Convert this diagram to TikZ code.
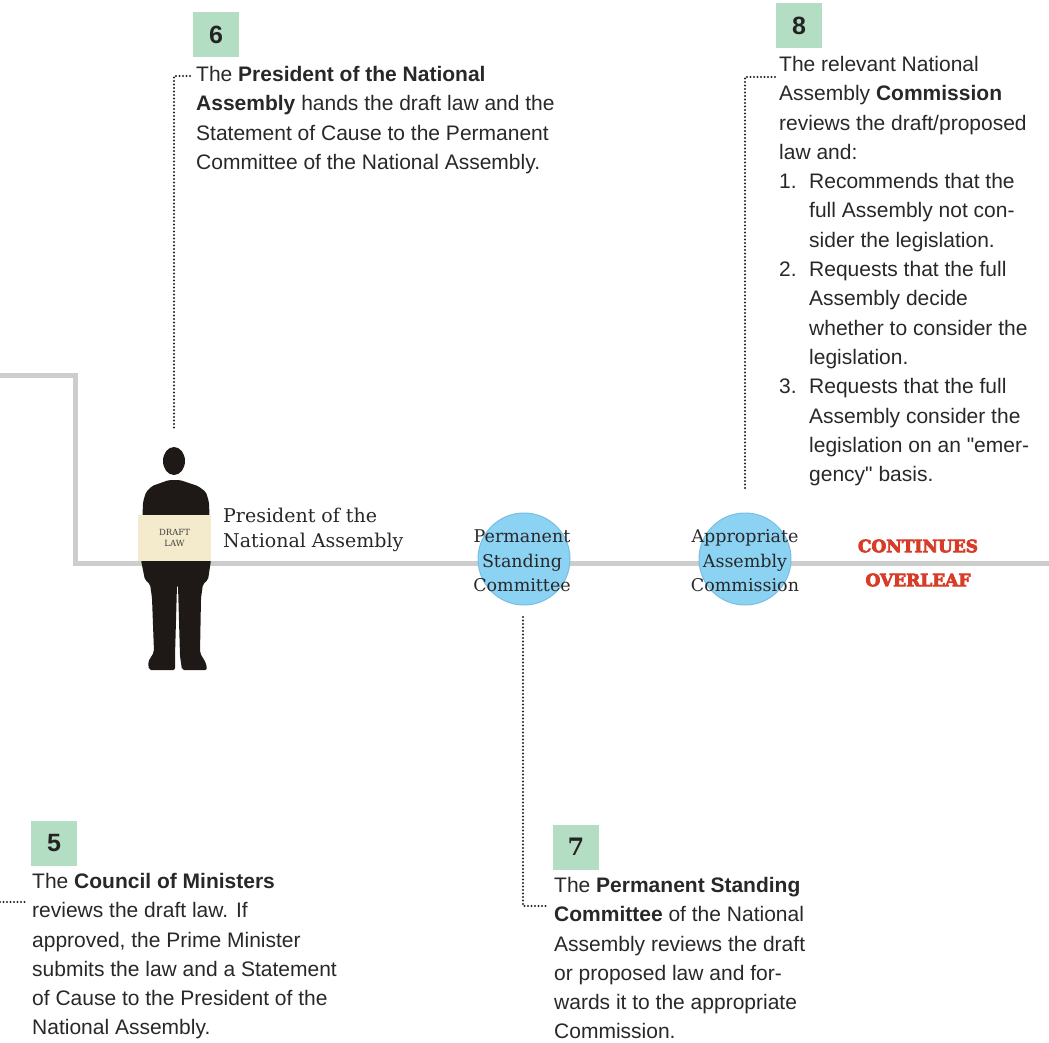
\documentclass[tikz,border=0pt]{standalone}
\usepackage{fontspec}
\setmainfont{Liberation Sans}[Ligatures=TeXOff]
\newfontfamily\slab{DejaVu Serif}
\newfontfamily\slabheavy{DejaVu Serif}[FakeBold=4.5]
\definecolor{linegray}{RGB}{205,205,205}
\definecolor{badgegreen}{RGB}{180,222,196}
\definecolor{numcol}{RGB}{35,35,35}
\definecolor{txtcol}{RGB}{40,40,40}
\definecolor{dotcol}{RGB}{35,35,35}
\definecolor{circblue}{RGB}{140,210,243}
\definecolor{circedge}{RGB}{120,190,228}
\definecolor{figcol}{RGB}{30,25,22}
\definecolor{boardcol}{RGB}{243,235,204}
\definecolor{redcol}{RGB}{215,60,40}
\begin{document}
\begin{tikzpicture}[x=1pt,y=-1pt,
  body/.style={font=\fontsize{21}{29.3}\selectfont, align=left, inner sep=0pt, anchor=north west, text=txtcol},
  badge/.style={fill=badgegreen, minimum width=46pt, minimum height=45pt, inner sep=0pt, font=\fontsize{25}{25}\selectfont\bfseries, text=numcol},
  dots/.style={draw=dotcol, line width=2.1pt, line cap=round, dash pattern=on 0pt off 3.5pt},
  circ/.style={circle, fill=circblue, draw=circedge, line width=1pt, minimum size=92pt, inner sep=0pt},
  circtext/.style={font=\slab\fontsize{17.5}{24.5}\selectfont, align=center, inner sep=0pt, text=txtcol},
  slablabel/.style={font=\slab\fontsize{19}{25}\selectfont, align=left, inner sep=0pt, anchor=north west, text=txtcol},
  flowline/.style={draw=linegray, line width=5pt}]
\useasboundingbox (0,0) rectangle (1049,1042);

% main gray line
\coordinate (l0) at (0,375);
\coordinate (l1) at (75,375);
\coordinate (l2) at (75,563);
\coordinate (l3) at (1049,563);
\draw[flowline] (l0) -- (l1) -- (l2) -- (l3);

% figure (President)
\fill[figcol, rounded corners=2pt] (169,480) -- (152,486) -- (146,492) -- (143,502) -- (141,560) -- (145,580) -- (150,584) -- (152,598) -- (154,652) -- (148,662) -- (149,670) -- (175,670) -- (175,656) -- (177,585) -- (178,585) -- (180,656) -- (182,670) -- (207,670) -- (206,663) -- (200,653) -- (201,598) -- (203,584) -- (208,580) -- (211,560) -- (209,502) -- (206,492) -- (198,486) -- (180,480) -- cycle;
\fill[figcol] (174,461) ellipse [x radius=11, y radius=14];
\node[fill=boardcol, minimum width=73pt, minimum height=46pt, inner sep=0pt] (board) at (174.5,537.5) {};
\node[font=\slab\fontsize{8.5}{11}\selectfont, align=center, text=black!75, inner sep=0pt] (draftlaw) at (board) {DRAFT\\LAW};
\node[slablabel] (preslabel) at (223,508) {President of the\\National Assembly};

% circles
\node[circ] (psc) at (524,559) {};
\node[circtext] (psclab) at (522,561) {Permanent\\Standing\\Committee};
\node[circ] (aac) at (745,559) {};
\node[circtext] (aaclab) at (745,561) {Appropriate\\Assembly\\Commission};

% continues overleaf
\node[font=\slabheavy\bfseries\fontsize{17}{34}\selectfont, text=redcol, align=center, inner sep=0pt] (cont) at (918,563) {CONTINUES\\OVERLEAF};

% badges
\node[badge] (b6) at (216,34.5) {6};
\node[badge] (b8) at (799,25.5) {8};
\node[badge] (b5) at (54,843) {5};
\node[badge, font=\slab\bfseries\fontsize{24}{24}\selectfont] (b7) at (576,847) {7};

% text blocks
\node[body] (t6) at (196,66) {The \textbf{President of the National}\\
\textbf{Assembly} hands the draft law and the\\
Statement of Cause to the Permanent\\
Committee of the National Assembly.};

\node[body] (t8) at (779,56) {The relevant National\\
Assembly \textbf{Commission}\\
reviews the draft/proposed\\
law and:\\
\makebox[30pt][l]{1.}Recommends that the\\
\hspace*{30pt}full Assembly not con-\\
\hspace*{30pt}sider the legislation.\\
\makebox[30pt][l]{2.}Requests that the full\\
\hspace*{30pt}Assembly decide\\
\hspace*{30pt}whether to consider the\\
\hspace*{30pt}legislation.\\
\makebox[30pt][l]{3.}Requests that the full\\
\hspace*{30pt}Assembly consider the\\
\hspace*{30pt}legislation on an "emer-\\
\hspace*{30pt}gency" basis.};

\node[body] (t5) at (32,873) {The \textbf{Council of Ministers}\\
reviews the draft law. If\\
approved, the Prime Minister\\
submits the law and a Statement\\
of Cause to the President of the\\
National Assembly.};

\node[body] (t7) at (554,877) {The \textbf{Permanent Standing}\\
\textbf{Committee} of the National\\
Assembly reviews the draft\\
or proposed law and for-\\
wards it to the appropriate\\
Commission.};

% dotted leaders
\coordinate (d6a) at (190,76);
\coordinate (d6b) at (174,430);
\draw[dots] (d6a) -| (d6b);
\coordinate (d8a) at (775,77);
\coordinate (d8b) at (745,490);
\draw[dots] (d8a) -| (d8b);
\coordinate (d7a) at (523,617);
\coordinate (d7b) at (547,906);
\draw[dots] (d7a) |- (d7b);
\coordinate (d5a) at (0,902);
\coordinate (d5b) at (25,902);
\draw[dots] (d5a) -- (d5b);
\end{tikzpicture}
\end{document}
